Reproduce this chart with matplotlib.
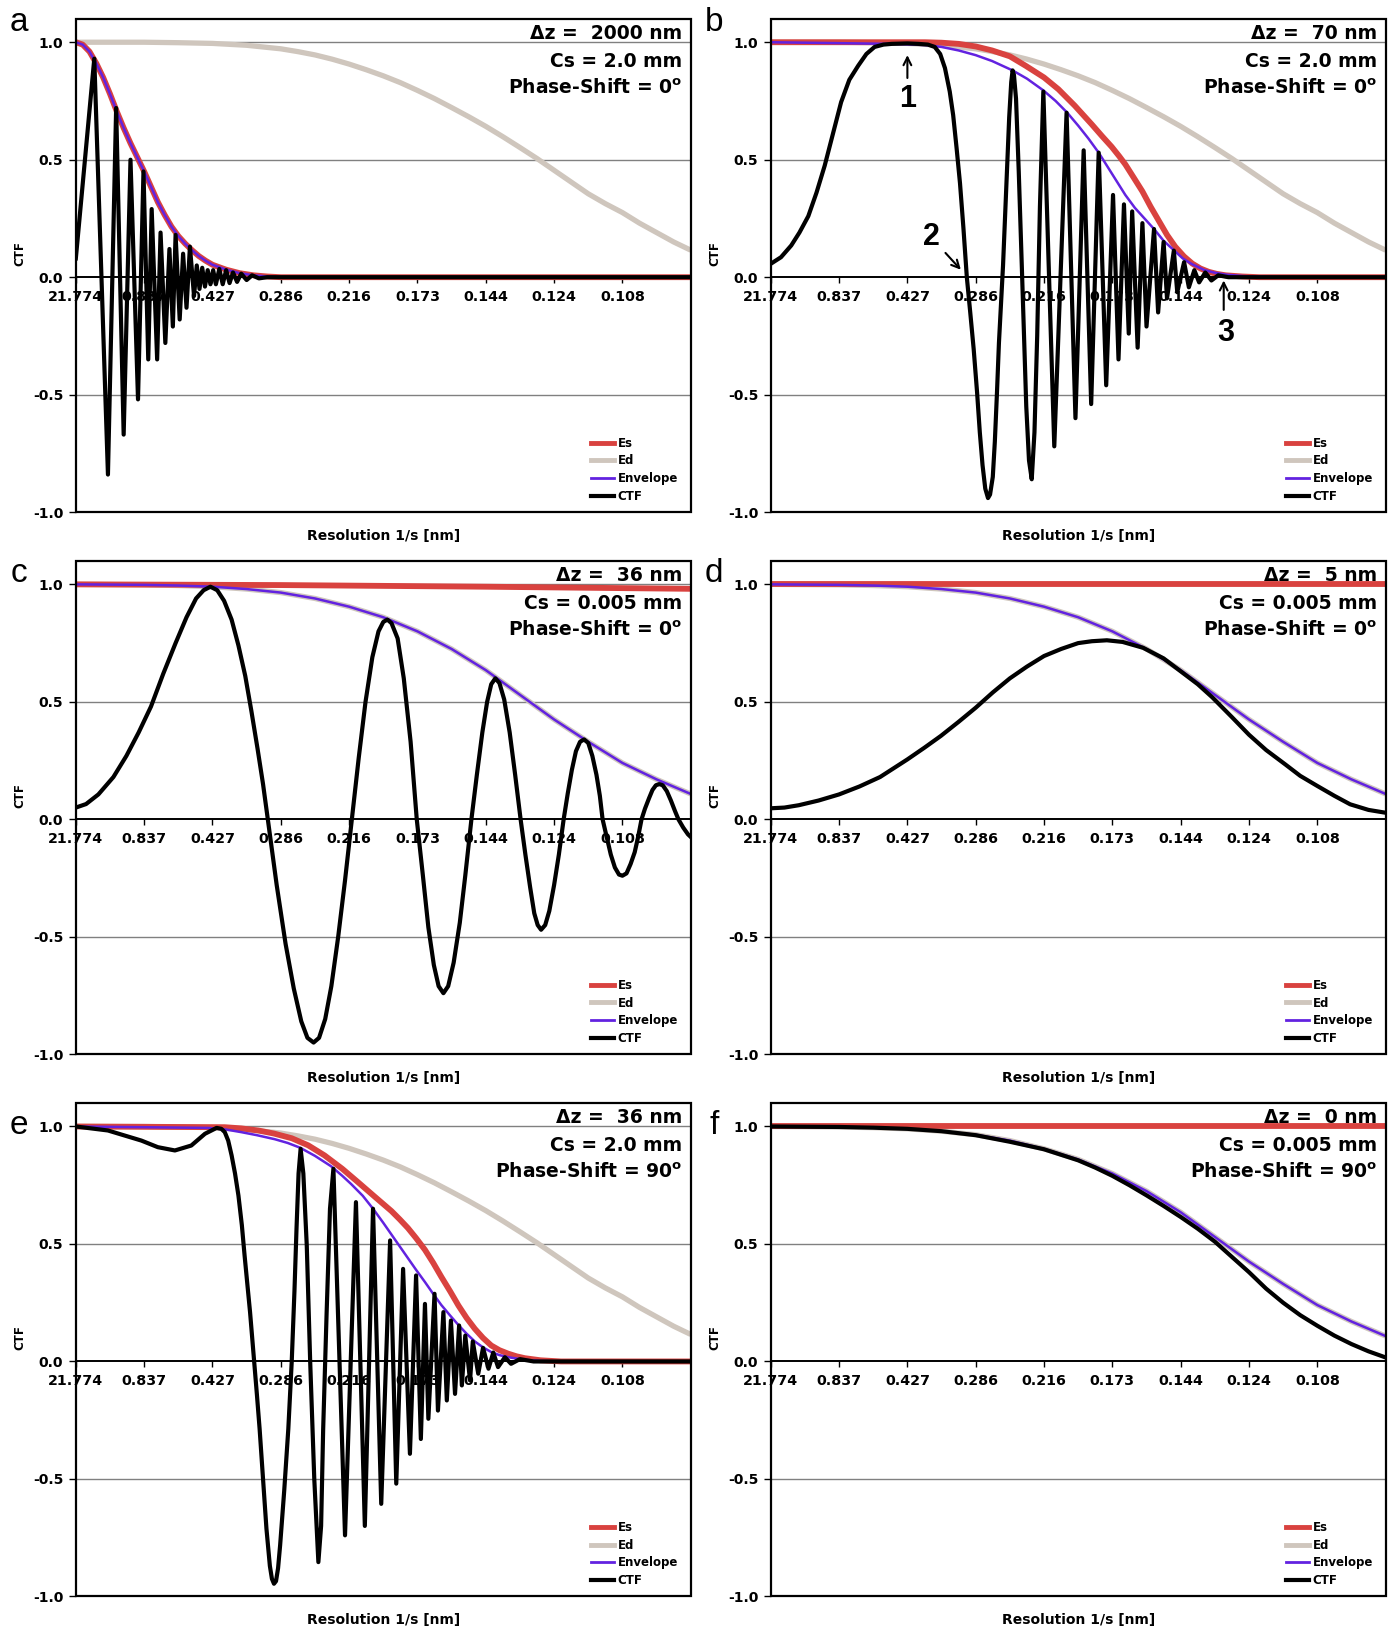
import matplotlib.pyplot as plt
from matplotlib.lines import Line2D
from matplotlib.patches import Rectangle
from matplotlib.transforms import blended_transform_factory

# x values are in tick units: 0 = "21.774", 1 = "0.837", ..., 8 = "0.108"
tick_labels = ["21.774", "0.837", "0.427", "0.286", "0.216", "0.173", "0.144", "0.124", "0.108"]
panel_letters = ["a", "b", "c", "d", "e", "f"]
defocus_nm = ["2000", "70", "36", "5", "36", "0"]
cs_mm = ["2.0", "2.0", "0.005", "0.005", "2.0", "0.005"]
phase_deg = ["0", "0", "0", "0", "90", "90"]

# Ed for Cs = 2.0 mm (a, b, e) and Cs = 0.005 mm (c, d, f)
ed2_u = [0, 1, 1.5, 2, 2.5, 3, 3.25, 3.5, 3.75, 4, 4.25, 4.5, 4.75, 5, 5.25, 5.5, 5.75, 6, 6.25,
         6.5, 6.75, 7, 7.25, 7.5, 7.75, 8, 8.25, 8.5, 8.75, 9]
ed2_y = [1.0, 1.0, 0.998, 0.995, 0.987, 0.972, 0.96, 0.946, 0.928, 0.907, 0.883, 0.857, 0.828, 0.795,
         0.76, 0.722, 0.683, 0.642, 0.598, 0.552, 0.505, 0.455, 0.405, 0.355, 0.313, 0.275, 0.23,
         0.19, 0.15, 0.115]
ed005_u = [0, 1, 1.5, 2, 2.5, 3, 3.5, 4, 4.5, 5, 5.5, 6, 6.5, 7, 7.5, 8, 8.5, 9]
ed005_y = [1.0, 0.998, 0.995, 0.99, 0.98, 0.965, 0.94, 0.905, 0.86, 0.80, 0.725, 0.635, 0.53, 0.425,
           0.33, 0.24, 0.17, 0.108]
flat_u = [0, 9]
flat_y = [1.0, 1.0]

# panel a
a_env_u = [0, 0.1, 0.2, 0.3, 0.4, 0.5, 0.6, 0.7, 0.8, 0.9, 1.0, 1.1, 1.2, 1.3, 1.4, 1.5, 1.6, 1.7,
           1.8, 1.9, 2.0, 2.2, 2.4, 2.6, 2.8, 3.0, 9.0]
a_env_y = [1.0, 0.99, 0.96, 0.91, 0.85, 0.78, 0.705, 0.635, 0.57, 0.51, 0.45, 0.385, 0.32, 0.265,
           0.215, 0.175, 0.143, 0.115, 0.09, 0.07, 0.053, 0.032, 0.017, 0.008, 0.003, 0.0, 0.0]
a_ctf_u = [0.0, 0.27, 0.47, 0.59, 0.70, 0.80, 0.91, 0.99, 1.06, 1.11, 1.19, 1.24, 1.31, 1.37, 1.42,
           1.46, 1.52, 1.57, 1.62, 1.67, 1.73, 1.77, 1.81, 1.85, 1.89, 1.93, 1.97, 2.01, 2.05, 2.10,
           2.15, 2.20, 2.25, 2.30, 2.36, 2.42, 2.50, 2.58, 2.68, 2.80, 9.0]
a_ctf_y = [0.08, 0.93, -0.84, 0.72, -0.67, 0.50, -0.52, 0.45, -0.35, 0.29, -0.35, 0.19, -0.28, 0.12,
           -0.21, 0.18, -0.18, 0.10, -0.13, 0.13, -0.08, 0.05, -0.05, 0.04, -0.04, 0.03, -0.03, 0.03,
           -0.03, 0.035, -0.03, 0.03, -0.025, 0.02, -0.02, 0.015, -0.012, 0.008, -0.005, 0.0, 0.0]

# panel b
b_es_u = [0, 2.26, 2.5, 2.75, 3.0, 3.24, 3.5, 3.73, 4.0, 4.21, 4.45, 4.70, 4.85, 4.99, 5.1, 5.19,
          5.31, 5.44, 5.56, 5.68, 5.8, 5.92, 6.05, 6.17, 6.29, 6.41, 6.53, 6.66, 6.9, 7.15, 9]
b_es_y = [1.0, 1.0, 0.998, 0.993, 0.982, 0.965, 0.94, 0.90, 0.85, 0.80, 0.73, 0.65, 0.60, 0.555,
          0.515, 0.48, 0.425, 0.365, 0.30, 0.24, 0.18, 0.13, 0.088, 0.058, 0.037, 0.023, 0.014,
          0.008, 0.003, 0.0, 0.0]
b_env_u = [0, 1.77, 2.26, 2.5, 2.75, 3.0, 3.24, 3.54, 3.75, 3.99, 4.17, 4.34, 4.5, 4.65, 4.80, 4.93,
           5.06, 5.19, 5.33, 5.47, 5.61, 5.75, 5.90, 6.03, 6.17, 6.35, 6.5, 6.66, 6.9, 7.15, 7.5, 9]
b_env_y = [1.0, 0.993, 0.988, 0.98, 0.965, 0.945, 0.92, 0.88, 0.845, 0.795, 0.75, 0.70, 0.645, 0.59,
           0.53, 0.47, 0.41, 0.35, 0.295, 0.25, 0.205, 0.155, 0.115, 0.08, 0.055, 0.03, 0.019,
           0.011, 0.005, 0.002, 0.0, 0.0]
b_ctf_u = [0.0, 0.15, 0.30, 0.42, 0.55, 0.67, 0.79, 0.91, 1.03, 1.15, 1.28, 1.40, 1.52, 1.65, 1.77,
           2.0, 2.16, 2.30, 2.40, 2.48, 2.55, 2.62, 2.67, 2.72, 2.77, 2.82, 2.87, 2.92, 2.97, 3.02,
           3.06, 3.10, 3.14, 3.18, 3.21, 3.25, 3.28, 3.31, 3.34, 3.40, 3.45, 3.49, 3.52, 3.54, 3.56,
           3.59, 3.63, 3.68, 3.74, 3.78, 3.82, 3.86, 3.90, 3.94, 3.99, 4.15, 4.33, 4.46, 4.58, 4.69,
           4.80, 4.91, 5.01, 5.09, 5.17, 5.24, 5.29, 5.37, 5.44, 5.50, 5.61, 5.67, 5.75, 5.80, 5.90,
           5.95, 6.05, 6.12, 6.20, 6.27, 6.36, 6.45, 6.55, 6.70, 9.0]
b_ctf_y = [0.057, 0.085, 0.135, 0.19, 0.26, 0.36, 0.475, 0.61, 0.745, 0.84, 0.90, 0.95, 0.98, 0.99,
           0.993, 0.995, 0.993, 0.99, 0.98, 0.95, 0.89, 0.79, 0.69, 0.55, 0.40, 0.21, 0.0, -0.15,
           -0.305, -0.49, -0.66, -0.80, -0.90, -0.94, -0.925, -0.85, -0.70, -0.50, -0.28, 0.05,
           0.40, 0.68, 0.83, 0.88, 0.86, 0.76, 0.45, 0.0, -0.55, -0.78, -0.86, -0.66, -0.25, 0.30,
           0.79, -0.72, 0.70, -0.60, 0.54, -0.54, 0.53, -0.46, 0.35, -0.35, 0.31, -0.24, 0.28, -0.30,
           0.23, -0.21, 0.205, -0.15, 0.15, -0.09, 0.113, -0.064, 0.064, -0.043, 0.03, -0.022, 0.02,
           -0.014, 0.008, 0.0, 0.0]

# panel c
c_es_u = [0, 3, 6, 9]
c_es_y = [1.0, 0.997, 0.99, 0.981]
c_ctf_u = [0, 0.15, 0.33, 0.55, 0.74, 0.92, 1.1, 1.28, 1.46, 1.62, 1.76, 1.87, 1.97, 2.07, 2.17,
           2.28, 2.38, 2.48, 2.57, 2.66, 2.74, 2.81,
           2.94, 3.07, 3.19, 3.30, 3.39, 3.48, 3.56, 3.65, 3.74, 3.84, 3.94, 4.04,
           4.14, 4.24, 4.34, 4.43, 4.50, 4.56, 4.62, 4.71, 4.80, 4.90, 4.99,
           5.08, 5.16, 5.24, 5.31, 5.38, 5.45, 5.53, 5.62, 5.70, 5.79,
           5.87, 5.95, 6.02, 6.08, 6.14, 6.20, 6.27, 6.35, 6.43, 6.51,
           6.58, 6.65, 6.71, 6.76, 6.81, 6.87, 6.93, 7.00, 7.07, 7.14,
           7.20, 7.26, 7.32, 7.38, 7.44, 7.50, 7.56, 7.62, 7.67, 7.71,
           7.77, 7.83, 7.89, 7.95, 8.0, 8.06, 8.12, 8.18, 8.23, 8.28,
           8.33, 8.39, 8.44, 8.49, 8.54, 8.59, 8.65, 8.71, 8.77, 8.82, 8.89, 8.96, 9.0]
c_ctf_y = [0.05, 0.065, 0.106, 0.18, 0.27, 0.37, 0.48, 0.62, 0.75, 0.86, 0.94, 0.975, 0.99, 0.975,
           0.93, 0.85, 0.74, 0.61, 0.46, 0.30, 0.15, 0.0,
           -0.28, -0.53, -0.72, -0.86, -0.93, -0.95, -0.93, -0.85, -0.71, -0.50, -0.26, 0.0,
           0.26, 0.50, 0.69, 0.80, 0.84, 0.85, 0.835, 0.77, 0.60, 0.33, 0.0,
           -0.24, -0.46, -0.62, -0.71, -0.74, -0.71, -0.61, -0.44, -0.24, 0.0,
           0.19, 0.37, 0.50, 0.575, 0.60, 0.58, 0.51, 0.37, 0.19, 0.0,
           -0.15, -0.29, -0.40, -0.45, -0.47, -0.45, -0.39, -0.28, -0.15, 0.0,
           0.11, 0.21, 0.29, 0.33, 0.34, 0.325, 0.27, 0.19, 0.10, 0.0,
           -0.075, -0.15, -0.205, -0.235, -0.24, -0.23, -0.19, -0.14, -0.075, 0.0,
           0.045, 0.09, 0.125, 0.145, 0.15, 0.145, 0.12, 0.08, 0.035, 0.0, -0.035, -0.064, -0.075]

# panel d
d_ctf_u = [0, 0.2, 0.41, 0.7, 1.0, 1.3, 1.6, 2.0, 2.25, 2.49, 2.75, 3.0, 3.25, 3.5, 3.75, 4.0, 4.25,
           4.5, 4.7, 4.92, 5.15, 5.45, 5.75, 6.0, 6.25, 6.46, 6.75, 7.0, 7.25, 7.53, 7.75, 8.0, 8.25,
           8.48, 8.75, 9.0]
d_ctf_y = [0.047, 0.05, 0.06, 0.08, 0.106, 0.14, 0.18, 0.255, 0.305, 0.355, 0.415, 0.475, 0.54, 0.60,
           0.65, 0.695, 0.725, 0.75, 0.758, 0.762, 0.755, 0.73, 0.685, 0.63, 0.575, 0.52, 0.435,
           0.36, 0.295, 0.234, 0.185, 0.142, 0.10, 0.064, 0.04, 0.028]

# panel e
e_es_u = [0, 2.18, 2.42, 2.67, 2.9, 3.16, 3.4, 3.64, 3.9, 4.13, 4.38, 4.62, 4.74, 4.86, 4.98, 5.11,
          5.23, 5.35, 5.48, 5.6, 5.72, 5.84, 5.96, 6.08, 6.2, 6.33, 6.45, 6.57, 6.8, 7.1, 9]
e_es_y = [1.0, 0.997, 0.992, 0.983, 0.97, 0.95, 0.92, 0.877, 0.82, 0.763, 0.70, 0.64, 0.605, 0.568,
          0.525, 0.475, 0.42, 0.36, 0.298, 0.238, 0.185, 0.139, 0.10, 0.068, 0.048, 0.033, 0.022,
          0.014, 0.005, 0.0, 0.0]
e_env_u = [0, 1.94, 2.2, 2.42, 2.65, 2.91, 3.1, 3.28, 3.5, 3.74, 3.9, 4.03, 4.2, 4.35, 4.5, 4.62,
           4.74, 4.86, 4.98, 5.11, 5.23, 5.35, 5.48, 5.6, 5.72, 5.84, 5.96, 6.08, 6.2, 6.33, 6.57,
           6.8, 7.1, 9]
e_env_y = [1.0, 0.994, 0.987, 0.976, 0.963, 0.946, 0.93, 0.91, 0.875, 0.83, 0.79, 0.755, 0.705, 0.65,
           0.59, 0.54, 0.49, 0.44, 0.39, 0.338, 0.288, 0.24, 0.195, 0.155, 0.118, 0.085, 0.06, 0.04,
           0.027, 0.018, 0.007, 0.002, 0.0, 0.0]
e_ctf_u = [0, 0.47, 0.96, 1.2, 1.45, 1.69, 1.89, 2.06, 2.13, 2.18, 2.23, 2.28, 2.33, 2.38, 2.43,
           2.47, 2.51, 2.55, 2.61, 2.65, 2.69, 2.74, 2.79, 2.84, 2.87, 2.9, 2.93, 2.96, 2.99, 3.05,
           3.11, 3.16, 3.20, 3.23, 3.26, 3.29, 3.33, 3.38, 3.43, 3.49, 3.55, 3.59, 3.62, 3.67, 3.72,
           3.77, 3.94, 4.1, 4.23, 4.35, 4.47, 4.6, 4.69, 4.79, 4.89, 4.98, 5.05, 5.11, 5.16, 5.25,
           5.3, 5.38, 5.43, 5.49, 5.55, 5.61, 5.65, 5.7, 5.77, 5.81, 5.89, 5.96, 6.04, 6.11, 6.18,
           6.28, 6.37, 6.5, 6.7, 9]
e_ctf_y = [1.0, 0.983, 0.94, 0.912, 0.898, 0.919, 0.969, 0.994, 0.99, 0.976, 0.94, 0.877, 0.80,
           0.706, 0.58, 0.451, 0.33, 0.21, 0.0, -0.14, -0.287, -0.50, -0.712, -0.87, -0.925, -0.946,
           -0.935, -0.88, -0.783, -0.55, -0.287, 0.0, 0.30, 0.565, 0.80, 0.905, 0.80, 0.494, 0.0,
           -0.50, -0.854, -0.70, -0.29, 0.2, 0.65, 0.82, -0.74, 0.678, -0.70, 0.65, -0.606, 0.515,
           -0.52, 0.394, -0.393, 0.366, -0.33, 0.245, -0.244, 0.288, -0.209, 0.21, -0.166, 0.174,
           -0.138, 0.153, -0.102, 0.11, -0.081, 0.085, -0.052, 0.058, -0.031, 0.038, -0.024, 0.018,
           -0.01, 0.01, 0.0, 0.0]

# panel f
f_ctf_u = [0, 1, 1.5, 2, 2.5, 3, 3.5, 4, 4.5, 4.75, 5, 5.25, 5.5, 5.75, 6, 6.25, 6.5, 6.75, 7,
           7.25, 7.5, 7.75, 8, 8.25, 8.5, 8.75, 9]
f_ctf_y = [1.0, 0.998, 0.995, 0.99, 0.98, 0.963, 0.935, 0.903, 0.856, 0.825, 0.79, 0.75, 0.707,
           0.662, 0.615, 0.565, 0.51, 0.445, 0.38, 0.31, 0.25, 0.197, 0.152, 0.11, 0.074, 0.043, 0.017]

panels = [
    dict(es=(a_env_u, a_env_y), ed=(ed2_u, ed2_y), env=(a_env_u, a_env_y), ctf=(a_ctf_u, a_ctf_y)),
    dict(es=(b_es_u, b_es_y), ed=(ed2_u, ed2_y), env=(b_env_u, b_env_y), ctf=(b_ctf_u, b_ctf_y)),
    dict(es=(c_es_u, c_es_y), ed=(ed005_u, ed005_y), env=(ed005_u, ed005_y), ctf=(c_ctf_u, c_ctf_y)),
    dict(es=(flat_u, flat_y), ed=(ed005_u, ed005_y), env=(ed005_u, ed005_y), ctf=(d_ctf_u, d_ctf_y)),
    dict(es=(e_es_u, e_es_y), ed=(ed2_u, ed2_y), env=(e_env_u, e_env_y), ctf=(e_ctf_u, e_ctf_y)),
    dict(es=(flat_u, flat_y), ed=(ed005_u, ed005_y), env=(ed005_u, ed005_y), ctf=(f_ctf_u, f_ctf_y)),
]

ES_COLOR = "#d9423f"
ED_COLOR = "#cfc6bd"
ENV_COLOR = "#6222e0"
LEFTS = [0.0544, 0.5529]
BOTTOMS = [0.6856, 0.3528, 0.0200]
W, H = 0.4411, 0.3029


def draw_panel(ax, i, p):
    ax.plot(*p["ed"], color=ED_COLOR, lw=3.8, solid_capstyle="butt", zorder=3)
    ax.plot(*p["es"], color=ES_COLOR, lw=4.2, solid_capstyle="butt", zorder=3.1)
    ax.plot(*p["env"], color=ENV_COLOR, lw=1.8, zorder=3.2)
    ax.plot(*p["ctf"], color="black", lw=3.0, solid_joinstyle="round", zorder=3.3)

    ax.set_xlim(0, 9)
    ax.set_ylim(-1.0, 1.1)
    for g in (1.0, 0.5, -0.5):
        ax.axhline(g, color="#808080", lw=1.0, zorder=1)

    for s in ("top", "right", "left"):
        ax.spines[s].set_visible(False)
    ax.spines["bottom"].set_position(("data", 0))
    ax.spines["bottom"].set_linewidth(1.4)
    ax.spines["bottom"].set_zorder(2.5)
    ax.add_patch(Rectangle((0, 0), 1, 1, transform=ax.transAxes, fill=False,
                           lw=1.6, edgecolor="black", clip_on=False, zorder=6))

    ax.set_xticks(range(len(tick_labels)))
    ax.set_xticklabels(tick_labels, fontsize=10.3, fontweight="bold")
    ax.set_yticks([-1.0, -0.5, 0.0, 0.5, 1.0])
    ax.set_yticklabels(["-1.0", "-0.5", "0.0", "0.5", "1.0"], fontsize=10, fontweight="bold")
    ax.tick_params(axis="x", direction="out", length=4, width=1, pad=5)
    ax.tick_params(axis="y", direction="out", length=5, width=1, pad=4)

    ax.text(0.5, -0.048, "Resolution 1/s [nm]", transform=ax.transAxes,
            ha="center", va="center", fontsize=10, fontweight="bold")
    trans = blended_transform_factory(ax.transAxes, ax.transData)
    ax.text(-0.0907, 0.10, "CTF", transform=trans, rotation=90,
            ha="center", va="center", fontsize=8.5, fontweight="bold")

    ax.text(0.986, 0.971, "\u0394z =  %s nm" % defocus_nm[i], transform=ax.transAxes,
            ha="right", va="center", fontsize=13.5, fontweight="bold", zorder=7)
    ax.text(0.986, 0.914, "Cs = %s mm" % cs_mm[i], transform=ax.transAxes,
            ha="right", va="center", fontsize=13.5, fontweight="bold", zorder=7)
    ax.text(0.986, 0.860, "Phase-Shift = %s$^{\\mathbf{o}}$" % phase_deg[i], transform=ax.transAxes,
            ha="right", va="center", fontsize=13.5, fontweight="bold", zorder=7)

    handles = [
        Line2D([], [], color=ES_COLOR, lw=3.5),
        Line2D([], [], color=ED_COLOR, lw=3.5),
        Line2D([], [], color=ENV_COLOR, lw=2.0),
        Line2D([], [], color="black", lw=3.0),
    ]
    ax.legend(handles, ["Es", "Ed", "Envelope", "CTF"], loc="lower right",
              bbox_to_anchor=(0.993, 0.002), frameon=False, borderaxespad=0.3,
              prop={"weight": "bold", "size": 8.5}, handlelength=1.9,
              handletextpad=0.35, labelspacing=0.4)


fig = plt.figure(figsize=(13.94, 16.29), dpi=100)
letter_y = [0.986, 0.648, 0.309]
for i, p in enumerate(panels):
    row, col = divmod(i, 2)
    ax = fig.add_axes([LEFTS[col], BOTTOMS[row], W, H])
    draw_panel(ax, i, p)
    fig.text(0.0136 + col * 0.4985, letter_y[row], panel_letters[i], ha="center", va="center",
             fontsize=24, family="Liberation Sans")

    if i == 1:
        arrow = dict(arrowstyle="->", lw=1.5, color="black", mutation_scale=14)
        ax.annotate("", xy=(2.0, 0.957), xytext=(2.0, 0.836), arrowprops=arrow, zorder=8)
        ax.annotate("", xy=(2.81, 0.023), xytext=(2.53, 0.112), arrowprops=arrow, zorder=8)
        ax.annotate("", xy=(6.63, -0.002), xytext=(6.63, -0.151), arrowprops=arrow, zorder=8)
        for label, lx, ly in (("1", 2.0, 0.76), ("2", 2.35, 0.169), ("3", 6.66, -0.236)):
            ax.text(lx, ly, label, ha="center", va="center", fontsize=22,
                    fontweight="bold", family="Liberation Sans", zorder=8)

fig.savefig("out.png", dpi=100)
